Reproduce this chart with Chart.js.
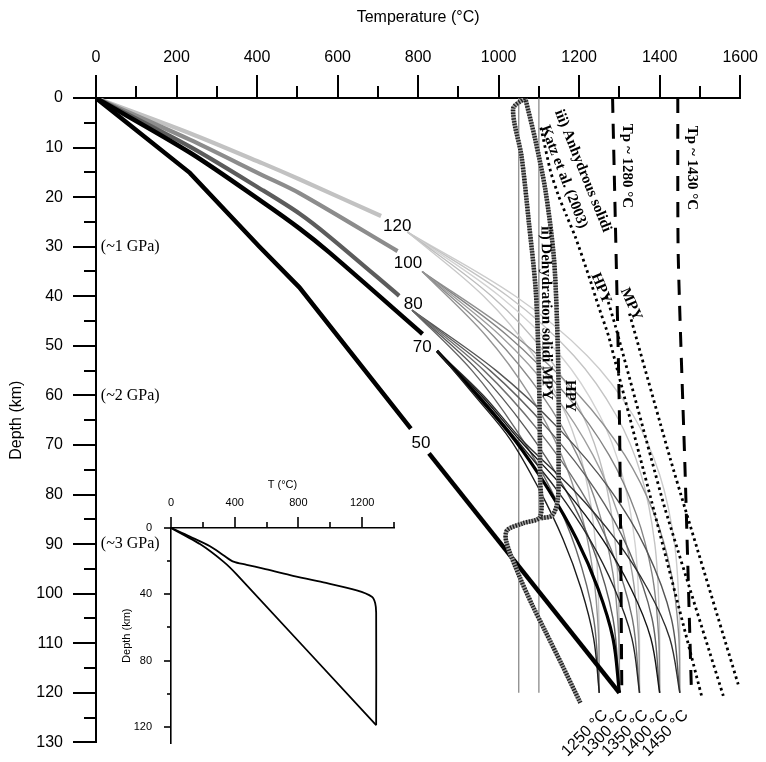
<!DOCTYPE html>
<html><head><meta charset="utf-8">
<script src="https://cdn.jsdelivr.net/npm/chart.js@4.4.0/dist/chart.umd.min.js"></script>
<style>
html,body{margin:0;padding:0;background:#fff;}
#wrap{position:relative;width:766px;height:762px;overflow:hidden;}
#mainBox{position:absolute;left:0;top:0;width:766px;height:762px;}
#insetBox{position:absolute;left:110px;top:470px;width:300px;height:292px;}
</style></head><body>
<div id="wrap">
  <div id="mainBox"><canvas id="main"></canvas></div>
  <div id="insetBox"><canvas id="inset"></canvas></div>
</div>
<script>
// ---------------- DATA (temperature °C, depth km) ----------------
const endTemps  = [1250, 1300, 1350, 1400, 1450];
const endLabels = ['1250 °C', '1300 °C', '1350 °C', '1400 °C', '1450 °C'];
const xTickStep = 200, yTickStep = 10;

// thick geotherms near the surface (T, depth)
const geo50a    = [[0,0],[233,15.1],[406,30],[505,38.2],[782,66.7]];
const geo50b    = [[827,71.7],[1300,120]];
const geo70Thick  = [[0,0],[233,11],[414,21],[505,26.3],[580,31.2],[811,47.6]];
const geo80Thick  = [[0,0],[233,9.8],[414,18.6],[505,23.3],[580,28.0],[753,39.9]];
const geo100Thick = [[0,0],[233,8.4],[414,15.6],[505,19.2],[749,30.9]];
const geo120Thick = [[0,0],[233,7.1],[414,13.2],[505,16.4],[708,23.8]];

// thin branches toward the 120 km endpoints
const depth120 = [27,40,52,64,76,90,105,120];
const t120_1250 = [773,963,1088,1168,1215,1241,1249,1250];
const t120_1300 = [773,983,1121,1209,1261,1290,1299,1300];
const t120_1350 = [773,1003,1154,1251,1307,1339,1349,1350];
const t120_1400 = [773,1023,1187,1292,1354,1388,1399,1400];
const t120_1450 = [773,1042,1220,1334,1400,1437,1449,1450];

const depth100 = [35,48,60,72,84,96,108,120];
const t100_1250 = [810,969,1078,1156,1206,1235,1248,1250];
const t100_1300 = [810,987,1108,1195,1251,1284,1298,1300];
const t100_1350 = [810,1005,1139,1234,1297,1332,1347,1350];
const t100_1400 = [810,1023,1169,1274,1342,1381,1397,1400];
const t100_1450 = [810,1041,1200,1313,1387,1429,1447,1450];

const depth80 = [42.8,55,67,79,91,105,120];
const t80_1250 = [785,934,1044,1130,1192,1236,1250];
const t80_1300 = [785,949,1071,1166,1235,1284,1300];
const t80_1350 = [785,964,1098,1203,1279,1332,1350];
const t80_1400 = [785,979,1125,1240,1322,1381,1400];
const t80_1450 = [785,994,1153,1277,1366,1429,1450];

const depth70 = [51,60,69,79,89,99,109,120];
const t70_1250 = [847,940,1030,1101,1160,1205,1236,1250];
const t70_1300 = [847,947,1040,1124,1194,1247,1284,1300];
const t70_1350 = [847,952,1045,1144,1226,1288,1331,1350];
const t70_1400 = [847,957,1052,1165,1258,1329,1378,1400];
const t70_1450 = [847,962,1058,1185,1290,1370,1425,1450];

// solidi and reference lines
const dehydA = [[1203,122],[1157,114.3],[1116,107.6],[1083,102.2],[1050,96.2],[1019,89.5],[1021,87.2],[1060,85.8],[1103,84.5],[1103,77],[1102,65],[1099,52],[1092,38.6],[1075,25],[1057,11.8],[1036,2.2],[1066,0]];
const dehydB = [[1066,0],[1091,8.4],[1116,18.5],[1137,32],[1145,45],[1149,58.7],[1149,72.7],[1147,81],[1133,84.2],[1103,84.8]];
const katzHPY   = [[1105,6],[1129,14.8],[1149,19.8],[1169,23.8],[1190,27.9],[1224,35.9],[1248,42],[1273,48],[1290,53.3],[1352,72.7],[1380,81.4],[1504,120.6]];
const anhydHPY  = [[1268,40],[1290,46],[1379,72.7],[1413,82.8],[1558,120.6]];
const anhydMPY  = [[1325,43.5],[1426,72.7],[1463,82.8],[1595,118.3]];
const tp1280    = [[1283,0],[1300,64],[1306,120]];
const tp1430    = [[1445,0],[1446,31.5],[1463,75],[1479,120]];
const vLine1050 = [[1050,0],[1050,120]];
const vLine1100 = [[1100,0],[1100,120]];

// inset
const insetUpper = [[0,0],[119,5.2],[245,11],[329,16.4],[392,20.3],[475,22.2],[580,24.5],[748,28.4],[957,32.8],[1166,37.7],[1261,41.5],[1282,45.4],[1288,51.2],[1288,119]];
const insetLower = [[0,0],[182,9.7],[329,20.3],[412,28],[1288,119]];

// ---------------- helpers ----------------
const P = arr => arr.map(p => ({x:p[0], y:p[1]}));
const TZ = (T, Z) => T.map((t,i) => ({x:t, y:Z[i]}));
function line(data, color, width, extra) {
  return Object.assign({data, borderColor:color, borderWidth:width, pointRadius:0, showLine:true, fill:false, tension:0.35}, extra||{});
}

Chart.defaults.font.family = '"Liberation Sans", Arial, sans-serif';
Chart.defaults.color = '#000';

const axisTicks = {
  id:'axisTicks',
  afterDraw(chart, args, o) {
    const {ctx, chartArea} = chart;
    const xs = chart.scales.x, ys = chart.scales.y;
    ctx.save();
    ctx.strokeStyle = '#000'; ctx.lineWidth = o.width;
    for (let v = xs.min; v <= xs.max; v += o.xMinor) {
      const len = (v % o.xMajor === 0) ? o.xMajLen : o.xMinLen;
      const px = Math.round(xs.getPixelForValue(v));
      ctx.beginPath(); ctx.moveTo(px, chartArea.top); ctx.lineTo(px, chartArea.top - len); ctx.stroke();
    }
    for (let v = ys.min; v <= ys.max; v += o.yMinor) {
      const len = (v % o.yMajor === 0) ? o.yMajLen : o.yMinLen;
      const py = Math.round(ys.getPixelForValue(v));
      ctx.beginPath(); ctx.moveTo(chartArea.left, py); ctx.lineTo(chartArea.left - len, py); ctx.stroke();
    }
    ctx.restore();
  }
};

// annotation placement (data coordinates) – styling kept here, not in data arrays
const serifB = 'bold 15px "Liberation Serif", "Times New Roman", serif';
const serif = '16px "Liberation Serif", "Times New Roman", serif';
const sans17 = '17px "Liberation Sans", Arial, sans-serif';
const sans16 = '16px "Liberation Sans", Arial, sans-serif';
const annotations = [
  {text:'120', T:748, z:25.9, font:sans17},
  {text:'100', T:775, z:33.4, font:sans17},
  {text:'80',  T:788, z:41.6, font:sans17},
  {text:'70',  T:810, z:50.2, font:sans17},
  {text:'50',  T:807, z:69.6, font:sans17},
  {text:'(~1 GPa)', T:12, z:30, font:serif, align:'left'},
  {text:'(~2 GPa)', T:12, z:60, font:serif, align:'left'},
  {text:'(~3 GPa)', T:12, z:90, font:serif, align:'left'},
  {text:'Tp ~ 1280 °C', T:1318, z:13.7, font:serifB, angle:90},
  {text:'Tp ~ 1430 °C', T:1481, z:14.1, font:serifB, angle:90},
  {text:'iii) Anhydrous solidi', T:1209, z:14.7, font:serifB, angle:68},
  {text:'Katz et al. (2003)', T:1162, z:15.9, font:serifB, angle:69},
  {text:'ii) Dehydration solidi MPY', T:1118, z:43.4, font:serifB, angle:89.5},
  {text:'HPY', T:1178, z:60.1, font:serifB, angle:90},
  {text:'HPY', T:1254, z:38.4, font:serifB, angle:67},
  {text:'MPY', T:1329, z:41.6, font:serifB, angle:66}
];

const textLayer = {
  id:'textLayer',
  afterDatasetsDraw(chart) {
    const {ctx} = chart; const xs = chart.scales.x, ys = chart.scales.y;
    const draw = (text, px, py, angle, font, align) => {
      ctx.save(); ctx.translate(px, py); ctx.rotate((angle||0)*Math.PI/180);
      ctx.font = font; ctx.fillStyle = '#000'; ctx.textAlign = align||'center'; ctx.textBaseline = 'middle';
      ctx.fillText(text, 0, 0); ctx.restore();
    };
    annotations.forEach(a => draw(a.text, xs.getPixelForValue(a.T), ys.getPixelForValue(a.z), a.angle, a.font, a.align));
    endTemps.forEach((t,i) => draw(endLabels[i], xs.getPixelForValue(t) + 6, ys.getPixelForValue(120) + 20, -45, sans16, 'right'));
  }
};

// ---------------- main chart ----------------
const c120 = ['#c9c9c9','#bdbdbd','#d2d2d2','#c4c4c4','#cccccc'];
const c100 = ['#959595','#8a8a8a','#9e9e9e','#858585','#909090'];
const c80  = ['#666666','#5a5a5a','#707070','#606060','#555555'];
const c70  = ['#1c1c1c','#000000','#262626','#141414','#2e2e2e'];

const datasets = [];
datasets.push(line(P(vLine1050), '#808080', 1.2, {order:60, tension:0}));
datasets.push(line(P(vLine1100), '#808080', 1.2, {order:60, tension:0}));
[t120_1250,t120_1300,t120_1350,t120_1400,t120_1450].forEach((t,i)=>datasets.push(line(TZ(t,depth120), c120[i], 1.4, {order:50})));
datasets.push(line(P(geo120Thick), '#c2c2c2', 4.2, {order:49, tension:0.3}));
[t100_1250,t100_1300,t100_1350,t100_1400,t100_1450].forEach((t,i)=>datasets.push(line(TZ(t,depth100), c100[i], 1.4, {order:40})));
datasets.push(line(P(geo100Thick), '#8c8c8c', 4.2, {order:39, tension:0.3}));
[t80_1250,t80_1300,t80_1350,t80_1400,t80_1450].forEach((t,i)=>datasets.push(line(TZ(t,depth80), c80[i], 1.4, {order:30})));
datasets.push(line(P(geo80Thick), '#5c5c5c', 4.2, {order:29, tension:0.3}));
[t70_1250,t70_1300,t70_1350,t70_1400,t70_1450].forEach((t,i)=>datasets.push(line(TZ(t,depth70), c70[i], i===1?3.2:1.4, {order:20})));
datasets.push(line(P(geo70Thick), '#000', 4.5, {order:19, tension:0.3}));
datasets.push(line(P(geo50a), '#000', 4.5, {order:10, tension:0}));
datasets.push(line(P(geo50b), '#000', 4.5, {order:10, tension:0}));
// dehydration solidi (hatched band)
datasets.push(line(P(dehydA), '#a0a0a0', 4.5, {order:8, tension:0.3}));
datasets.push(line(P(dehydB), '#a0a0a0', 4.5, {order:8, tension:0.3}));
datasets.push(line(P(dehydA), '#1e1e1e', 4.5, {order:7, tension:0.3, borderDash:[1.3,1.5]}));
datasets.push(line(P(dehydB), '#1e1e1e', 4.5, {order:7, tension:0.3, borderDash:[1.3,1.5]}));
// anhydrous solidi (dotted)
datasets.push(line(P(katzHPY), '#000', 2.8, {order:5, tension:0.2, borderDash:[2.6,3.4]}));
datasets.push(line(P(anhydHPY), '#000', 2.8, {order:5, tension:0.2, borderDash:[2.6,3.4]}));
datasets.push(line(P(anhydMPY), '#000', 2.8, {order:5, tension:0.2, borderDash:[2.6,3.4]}));
// mantle adiabats (long dash)
datasets.push(line(P(tp1280), '#000', 3, {order:4, tension:0.2, borderDash:[15,11]}));
datasets.push(line(P(tp1430), '#000', 3, {order:4, tension:0.2, borderDash:[15,11]}));

new Chart(document.getElementById('main'), {
  type:'scatter',
  data:{datasets},
  options:{
    responsive:true, maintainAspectRatio:false, animation:false, devicePixelRatio:1,
    layout:{padding:{left:0, top:0, right:24, bottom:17}},
    plugins:{legend:{display:false}, tooltip:{enabled:false},
      axisTicks:{width:2, xMinor:100, xMajor:200, xMajLen:23, xMinLen:12, yMinor:5, yMajor:10, yMajLen:23, yMinLen:12}},
    scales:{
      x:{type:'linear', position:'top', min:0, max:1600,
         ticks:{stepSize:xTickStep, autoSkip:false, maxRotation:0, padding:8, color:'#000', font:{size:16},
                callback:v => String(v)},
         grid:{drawOnChartArea:false, drawTicks:true, tickLength:23, tickColor:'rgba(0,0,0,0)'},
         border:{display:true, color:'#000', width:2},
         title:{display:true, text:'Temperature (°C)', color:'#000', font:{size:16}, padding:{top:8, bottom:0}},
         afterFit(s){ s.height = 98; }},
      y:{type:'linear', reverse:true, min:0, max:130,
         ticks:{stepSize:yTickStep, autoSkip:false, padding:10, color:'#000', font:{size:16},
                callback:v => String(v)},
         grid:{drawOnChartArea:false, drawTicks:true, tickLength:23, tickColor:'rgba(0,0,0,0)'},
         border:{display:true, color:'#000', width:2},
         title:{display:true, text:'Depth (km)', color:'#000', font:{size:16}, padding:{top:7, bottom:0}},
         afterFit(s){ s.width = 96; }}
    }
  },
  plugins:[axisTicks, textLayer]
});

// ---------------- inset chart ----------------
new Chart(document.getElementById('inset'), {
  type:'scatter',
  data:{datasets:[
    line(P(insetUpper), '#000', 1.8, {tension:0.3}),
    line(P(insetLower), '#000', 1.8, {tension:0.2})
  ]},
  options:{
    responsive:true, maintainAspectRatio:false, animation:false, devicePixelRatio:1,
    layout:{padding:{left:0, top:0, right:16, bottom:9}},
    plugins:{legend:{display:false}, tooltip:{enabled:false},
      axisTicks:{width:1.6, xMinor:200, xMajor:400, xMajLen:11, xMinLen:6, yMinor:20, yMajor:40, yMajLen:7, yMinLen:4}},
    scales:{
      x:{type:'linear', position:'top', min:0, max:1400,
         ticks:{stepSize:400, includeBounds:false, autoSkip:false, maxRotation:0, padding:7, color:'#000', font:{size:11},
                callback:v => (v % 400 === 0 ? String(v) : '')},
         grid:{drawOnChartArea:false, drawTicks:true, tickLength:11, tickColor:'rgba(0,0,0,0)'},
         border:{display:true, color:'#000', width:1.6},
         title:{display:true, text:'T (°C)', color:'#000', font:{size:11}, padding:{top:8, bottom:0}},
         afterFit(s){ s.height = 58; }},
      y:{type:'linear', reverse:true, min:0, max:130,
         ticks:{stepSize:40, includeBounds:false, autoSkip:false, padding:12, color:'#000', font:{size:11},
                callback:v => (v % 40 === 0 ? String(v) : '')},
         grid:{drawOnChartArea:false, drawTicks:true, tickLength:7, tickColor:'rgba(0,0,0,0)'},
         border:{display:true, color:'#000', width:1.6},
         title:{display:true, text:'Depth (km)', color:'#000', font:{size:11}, padding:{top:10, bottom:0}},
         afterFit(s){ s.width = 61; }}
    }
  },
  plugins:[axisTicks]
});
</script>
</body></html>
